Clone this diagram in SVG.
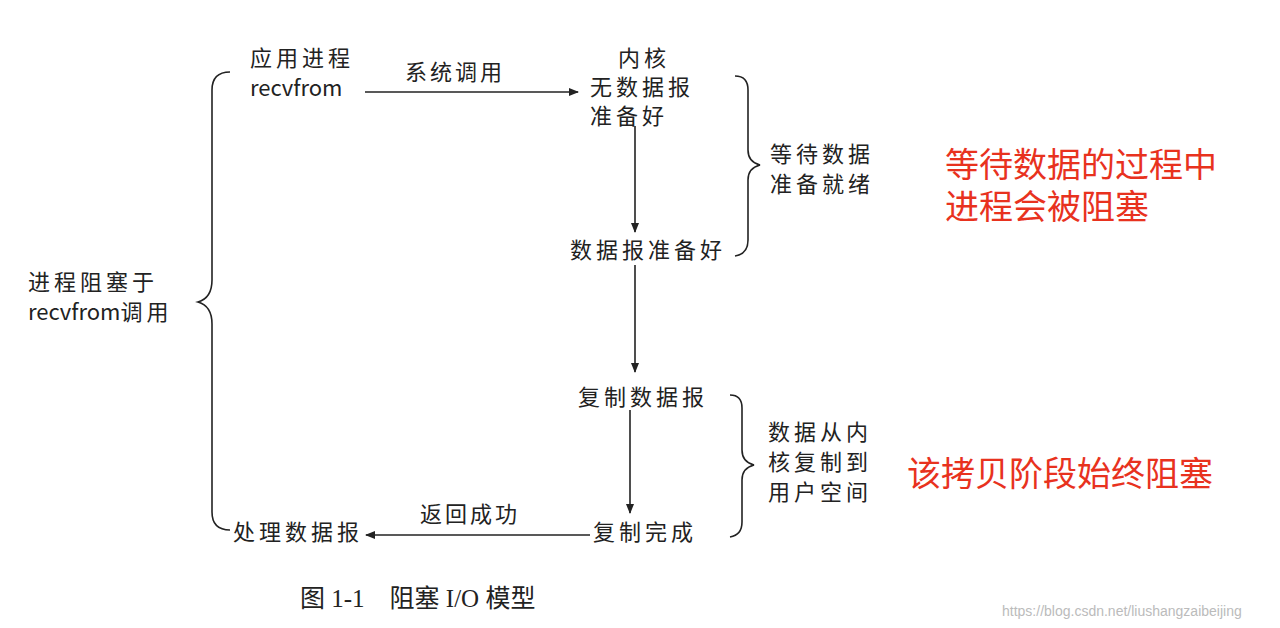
<svg xmlns="http://www.w3.org/2000/svg" width="1280" height="628" viewBox="0 0 1280 628">
<style>
.t{font-family:"Noto Sans CJK SC","Liberation Sans",sans-serif;font-size:22px;fill:#222;letter-spacing:4px}
.e{letter-spacing:0}
.r{font-family:"Noto Sans CJK SC",sans-serif;font-size:34px;fill:#e8321e}
.c{font-family:"Liberation Serif","Noto Sans CJK SC",serif;font-size:25px;fill:#222;white-space:pre}
.w{font-family:"Liberation Sans",sans-serif;font-size:14px;fill:#bbb}
.l{stroke:#222;stroke-width:1.6;fill:none}
</style>
<defs><marker id="a" markerWidth="10" markerHeight="8" refX="9" refY="4" orient="auto" markerUnits="userSpaceOnUse"><path d="M0,0L10,4L0,8z" fill="#222"/></marker></defs>
<rect width="1280" height="628" fill="#fff"/>
<g id="connectors">
<path class="l" d="M365,92H578" marker-end="url(#a)"/>
<path class="l" d="M635,126V232" marker-end="url(#a)"/>
<path class="l" d="M635,265V372" marker-end="url(#a)"/>
<path class="l" d="M630,410V513" marker-end="url(#a)"/>
<path class="l" d="M590,535H366" marker-end="url(#a)"/>
<path class="l" d="M230,72Q212,72 212,90V280Q212,298 198,302Q212,306 212,324V512Q212,530 230,530"/>
<path class="l" d="M735,76Q748,76 748,90V150Q748,162 760,165Q748,168 748,180V240Q748,254 735,256"/>
<path class="l" d="M730,395Q742,395 742,408V450Q742,462 754,465Q742,468 742,480V522Q742,535 730,537"/>
</g>
<g id="left"><text class="t" x="28" y="290">进程阻塞于</text><text class="t" x="28" y="320"><tspan class="e">recvfrom</tspan>调用</text></g>
<g id="app"><text class="t" x="250" y="66">应用进程</text><text class="t e" x="250" y="96">recvfrom</text></g>
<text class="t" x="405" y="80" font-size="20" style="letter-spacing:3px">系统调用</text>
<g id="kernel"><text class="t" x="618" y="66">内核</text><text class="t" x="590" y="95">无数据报</text><text class="t" x="590" y="124">准备好</text></g>
<g id="ready"><text class="t" x="570" y="258">数据报准备好</text></g>
<g id="wait"><text class="t" x="770" y="162">等待数据</text><text class="t" x="770" y="192">准备就绪</text></g>
<g id="copy"><text class="t" x="578" y="405">复制数据报</text></g>
<g id="copyk"><text class="t" x="768" y="440">数据从内</text><text class="t" x="768" y="470">核复制到</text><text class="t" x="768" y="500">用户空间</text></g>
<g id="done"><text class="t" x="593" y="540">复制完成</text></g>
<text class="t" x="420" y="522" font-size="20" style="letter-spacing:3px">返回成功</text>
<g id="proc"><text class="t" x="233" y="540">处理数据报</text></g>
<text class="r" x="945" y="177">等待数据的过程中</text>
<text class="r" x="945" y="219">进程会被阻塞</text>
<text class="r" x="907" y="486">该拷贝阶段始终阻塞</text>
<text class="c" x="300" y="607" xml:space="preserve">图 1-1    阻塞 I/O 模型</text>
<text class="w" x="1002" y="616">https://blog.csdn.net/liushangzaibeijing</text>
</svg>
